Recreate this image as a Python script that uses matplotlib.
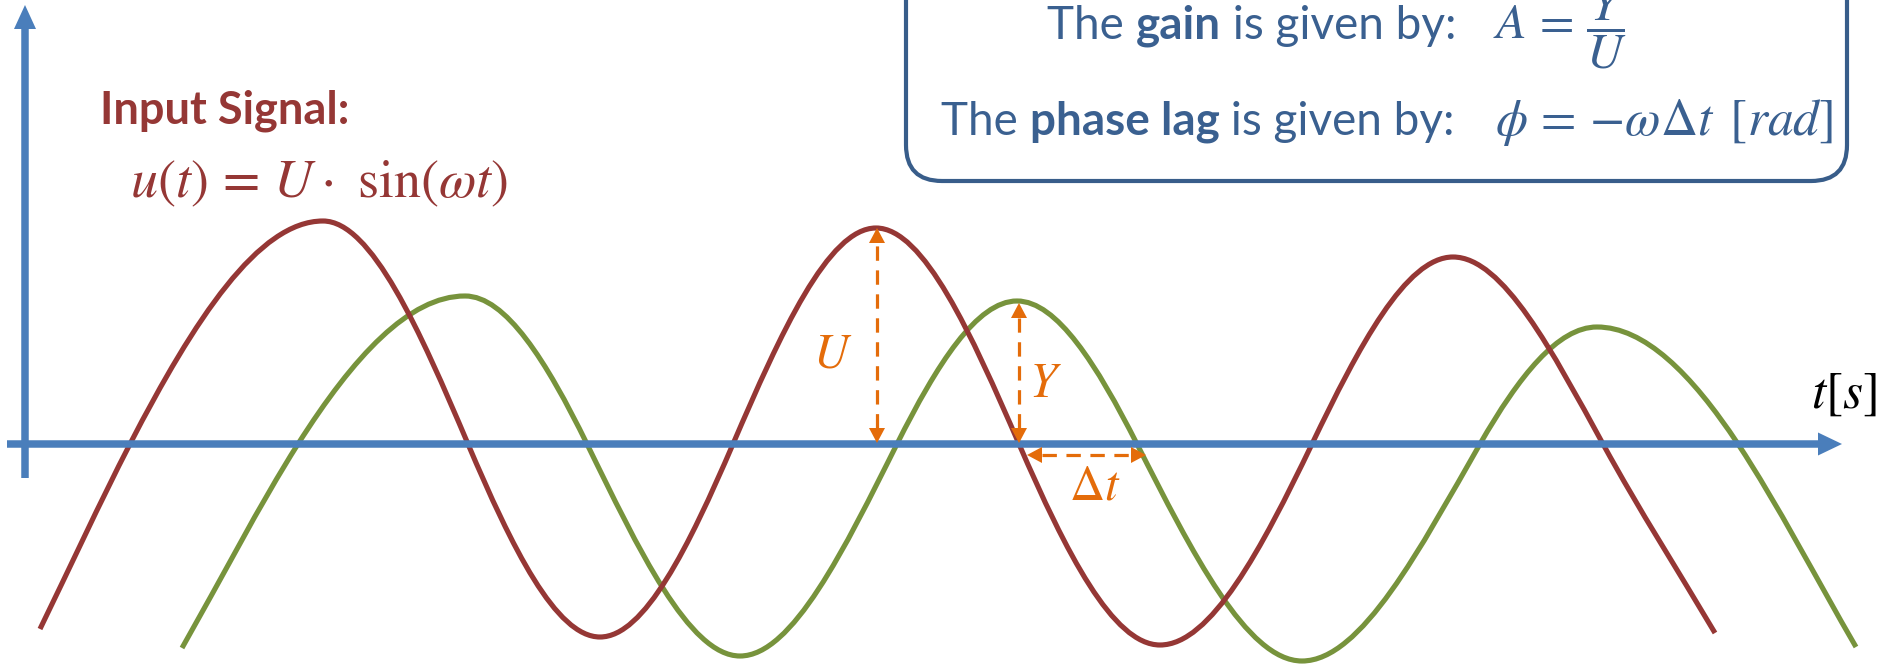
import numpy as np
import matplotlib.pyplot as plt
from matplotlib.path import Path
from matplotlib.patches import PathPatch, FancyArrow, FancyBboxPatch

plt.rcParams['mathtext.fontset'] = 'stix'

# key points of the two curves (x in px, y above the time axis in px)
# kinds: 'e' = end point, 'z' = zero crossing, 'x' = extremum
red_x = [40, 130, 323, 468, 600, 733, 876, 1019, 1160, 1312, 1453, 1603, 1715]
red_y = [-185, 0, 223, 0, -193, 0, 216, 0, -201, 0, 187, 0, -189]
green_x = [182, 298, 465, 587, 740, 897, 1017, 1137, 1302, 1480, 1597, 1738, 1856]
green_y = [-204, 0, 148, 0, -212, 0, 143, 0, -217, 0, 117, 0, -203]
kinds = ['e', 'z', 'x', 'z', 'x', 'z', 'x', 'z', 'x', 'z', 'x', 'z', 'e']

RED = '#953735'
GREEN = '#77933C'
BLUE = '#4A7EBB'
ORANGE = '#E46C0A'
NAVY = '#385D8A'
TXT = '#3A6090'


def slopes(xs, ys):
    m = []
    for i, k in enumerate(kinds):
        if k == 'x':
            m.append(0.0)
        elif k == 'e':
            j = i + 1 if i == 0 else i - 1
            m.append((ys[j] - ys[i]) / (xs[j] - xs[i]))
        else:
            parts = []
            for j in (i - 1, i + 1):
                if kinds[j] == 'x':
                    parts.append(np.pi / 2 * (ys[j] - ys[i]) / (xs[j] - xs[i]))
                else:
                    parts.append((ys[j] - ys[i]) / (xs[j] - xs[i]))
            m.append(np.mean(parts))
    return m


def curve_path(xs, ys):
    m = slopes(xs, ys)
    verts = [(xs[0], ys[0])]
    codes = [Path.MOVETO]
    for i in range(len(xs) - 1):
        d = (xs[i + 1] - xs[i]) / 3
        verts += [(xs[i] + d, ys[i] + m[i] * d),
                  (xs[i + 1] - d, ys[i + 1] - m[i + 1] * d),
                  (xs[i + 1], ys[i + 1])]
        codes += [Path.CURVE4] * 3
    return Path(verts, codes)


fig = plt.figure(figsize=(18.8, 6.66), dpi=100)
ax = fig.add_axes([0, 0, 1, 1])
ax.set_xlim(0, 1880)
ax.set_ylim(-222, 444)
ax.axis('off')

ax.add_patch(PathPatch(curve_path(green_x, green_y), fill=False, edgecolor=GREEN,
                       lw=3.7, capstyle='butt', zorder=2))
ax.add_patch(PathPatch(curve_path(red_x, red_y), fill=False, edgecolor=RED,
                       lw=3.7, capstyle='butt', zorder=3))

# axes with arrow heads
ax.add_patch(FancyArrow(7, 0, 1835, 0, width=7.5, head_width=23, head_length=24,
                        length_includes_head=True, color=BLUE, lw=0, zorder=4))
ax.add_patch(FancyArrow(25, -34, 0, 473, width=7.5, head_width=22, head_length=24,
                        length_includes_head=True, color=BLUE, lw=0, zorder=4))


def dashed_double(x0, y0, x1, y1):
    L = np.hypot(x1 - x0, y1 - y0)
    ux, uy = (x1 - x0) / L, (y1 - y0) / L
    hl = 15
    ax.plot([x0 + ux * hl, x1 - ux * hl], [y0 + uy * hl, y1 - uy * hl], color=ORANGE,
            lw=2.3, linestyle=(0, (4.5, 3)), zorder=5)
    for (tx, ty, sx) in ((x1, y1, 1), (x0, y0, -1)):
        ax.add_patch(FancyArrow(tx - sx * ux * hl, ty - sx * uy * hl, sx * ux * hl, sx * uy * hl,
                                width=0.01, head_width=16, head_length=hl,
                                length_includes_head=True, color=ORANGE, lw=0, zorder=5))


dashed_double(877, 1, 877, 216)
dashed_double(1019, 1, 1019, 141)
dashed_double(1027, -11, 1146, -11)

ax.text(833, 90, '$U$', color=ORANGE, fontsize=35, ha='center', va='center', zorder=6)
ax.text(1045, 61, '$Y$', color=ORANGE, fontsize=35, ha='center', va='center', zorder=6)
ax.text(1095, -41, r'$\Delta t$', color=ORANGE, fontsize=35, ha='center', va='center', zorder=6)
ax.text(1811, 36, '$t[s]$', color='black', fontsize=37, ha='left', va='baseline', zorder=6)

# input signal labels
ax.text(100, 321, 'Input Signal:', color=RED, fontsize=32.5, fontweight='bold',
        family='Lato', ha='left', va='baseline')
ax.text(130, 247, r'$u(t)\,=\,U\cdot\ \sin(\omega t)$', color=RED, fontsize=39,
        ha='left', va='baseline')

# info box
ax.add_patch(FancyBboxPatch((906, 263), 941, 260, boxstyle='round,pad=0,rounding_size=36',
                            facecolor='white', edgecolor=NAVY, lw=3, zorder=6))


def runs(x, y, parts):
    t = ax.text(x, y, parts[0][0], fontsize=33, family='Lato', color=TXT,
                fontweight=parts[0][1], ha='left', va='baseline', zorder=7)
    for s, w in parts[1:]:
        t = ax.annotate(s, xy=(1, 0), xycoords=t, fontsize=33, family='Lato', color=TXT,
                        fontweight=w, ha='left', va='bottom', zorder=7)


runs(1047, 405, [('The ', 'normal'), ('gain', 'bold'), (' is given by:', 'normal')])
runs(941, 309, [('The ', 'normal'), ('phase lag', 'bold'), (' is given by:', 'normal')])
ax.text(1493, 405, r'$A\,=\,\dfrac{Y}{U}$', fontsize=36, color=TXT, ha='left', va='baseline', zorder=7)
ax.text(1495, 309, r'$\phi\,=\,{-\omega}\Delta t\ \,[rad]$', fontsize=37, color=TXT,
        ha='left', va='baseline', zorder=7)

fig.savefig('out.png', dpi=100)
